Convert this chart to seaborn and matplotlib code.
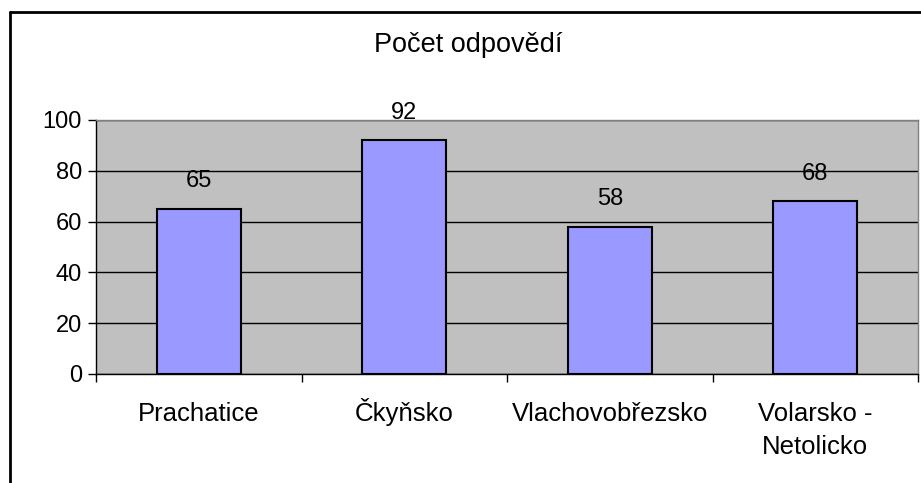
import matplotlib
matplotlib.use("Agg")
import matplotlib.pyplot as plt
import seaborn as sns
import pandas as pd
from matplotlib.lines import Line2D

regions = ["Prachatice", "Čkyňsko", "Vlachovobřezsko", "Volarsko -\nNetolicko"]
counts = [65, 92, 58, 68]
y_ticks = [0, 20, 40, 60, 80, 100]

df = pd.DataFrame({"region": regions, "count": counts})

sns.set_theme(style="white")
plt.rcParams["font.family"] = ["Liberation Sans", "DejaVu Sans"]
plt.rcParams["text.color"] = "black"
plt.rcParams["xtick.color"] = "black"
plt.rcParams["ytick.color"] = "black"

fig = plt.figure(figsize=(9.21, 4.83), dpi=100)
ax = fig.add_axes([96 / 921, 1 - 374 / 483, 822 / 921, 254 / 483])
ax.set_facecolor("#C0C0C0")

sns.barplot(data=df, x="region", y="count", color="#9999FF", width=0.41,
            edgecolor="black", linewidth=1.5, saturation=1, ax=ax, zorder=3)

for i, v in enumerate(counts):
    ax.text(i, v + 8.5, str(v), ha="center", va="baseline", fontsize=17, zorder=4)

ax.set_ylim(0, 100)
ax.set_xlim(-0.5, len(regions) - 0.5)
ax.set_yticks(y_ticks)
ax.set_yticklabels([str(t) for t in y_ticks], fontsize=17)
ax.yaxis.grid(True, color="black", linewidth=1)
ax.set_axisbelow(True)
ax.set_xlabel("")
ax.set_ylabel("")

# category labels: baselines aligned, second line below
ax.set_xticks([i - 0.5 for i in range(len(regions) + 1)])
ax.set_xticklabels([])
ax.tick_params(axis="x", length=6, width=1, color="black", direction="out", bottom=True)
ax.tick_params(axis="y", length=6, width=1, color="black", direction="out", left=True, pad=4)
for i, lab in enumerate(regions):
    for j, line in enumerate(lab.split("\n")):
        ax.text(i, -47 / 254 - j * 33 / 254, line, transform=ax.get_xaxis_transform(),
                ha="center", va="baseline", fontsize=18.5, clip_on=False)

for s in ["top", "right"]:
    ax.spines[s].set_color("#808080")
    ax.spines[s].set_linewidth(1)
for s in ["left", "bottom"]:
    ax.spines[s].set_color("black")
    ax.spines[s].set_linewidth(1)

fig.text(468 / 921, 1 - 52 / 483, "Počet odpovědí", ha="center", va="baseline", fontsize=19.5)

# chart frame (top and left edges visible)
fx, fy = 10 / 921, 1 - 12 / 483
fig.add_artist(Line2D([fx, 1], [fy, fy], transform=fig.transFigure, color="black", linewidth=2))
fig.add_artist(Line2D([fx, fx], [0, fy], transform=fig.transFigure, color="black", linewidth=2))

fig.savefig("out.png", dpi=100)
